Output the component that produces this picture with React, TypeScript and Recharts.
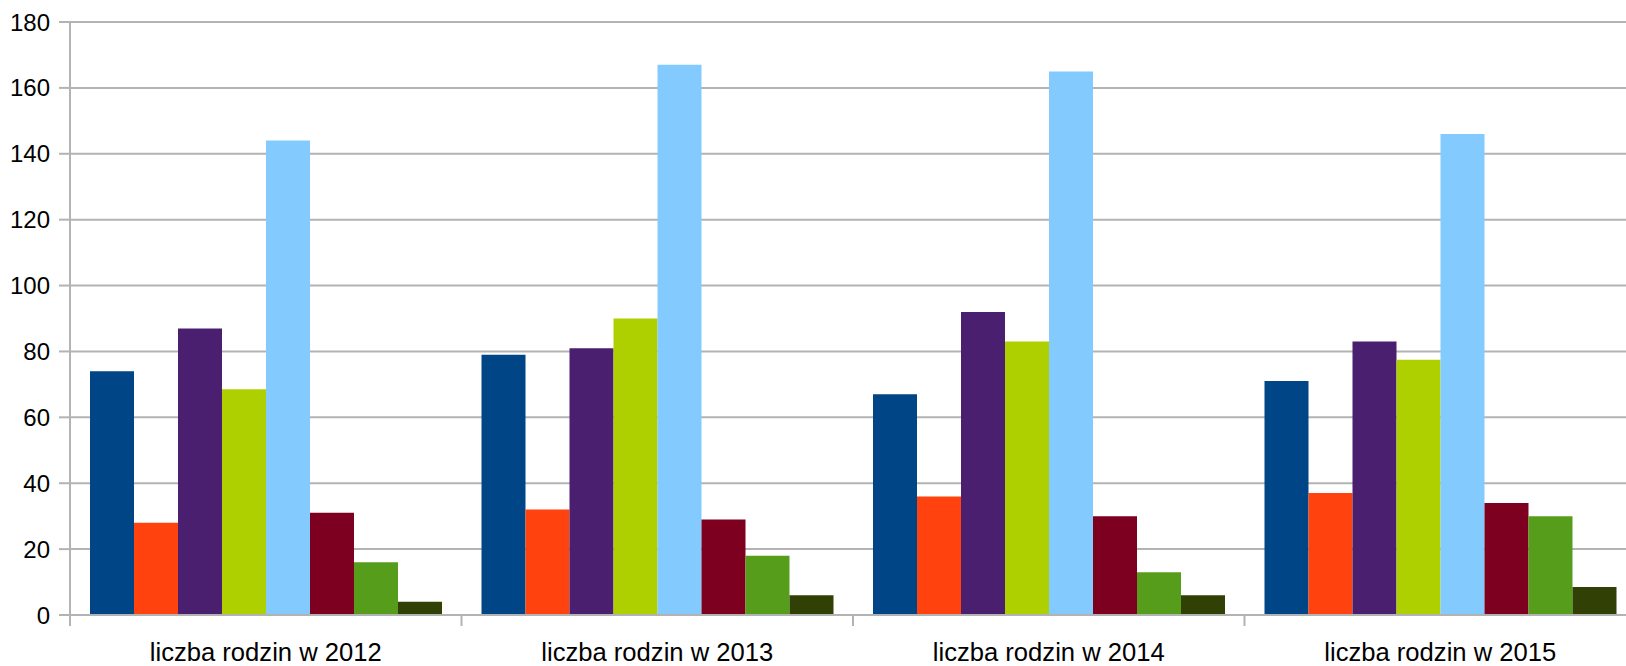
import { BarChart, Bar, XAxis, YAxis, CartesianGrid } from "recharts";

// categories (x axis)
const categories = [
  "liczba rodzin w 2012",
  "liczba rodzin w 2013",
  "liczba rodzin w 2014",
  "liczba rodzin w 2015",
];

// one array per series, in group order left -> right
const seria1 = [74, 79, 67, 71];
const seria2 = [28, 32, 36, 37];
const seria3 = [87, 81, 92, 83];
const seria4 = [68.5, 90, 83, 77.5];
const seria5 = [144, 167, 165, 146];
const seria6 = [31, 29, 30, 34];
const seria7 = [16, 18, 13, 30];
const seria8 = [4, 6, 6, 8.5];

const seriesValues = [seria1, seria2, seria3, seria4, seria5, seria6, seria7, seria8];
const seriesNames = ["Seria 1", "Seria 2", "Seria 3", "Seria 4", "Seria 5", "Seria 6", "Seria 7", "Seria 8"];
const seriesColors = ["#004586", "#ff420e", "#4b1f6f", "#aecf00", "#83caff", "#7e0021", "#579d1c", "#314004"];

const yTicks = [0, 20, 40, 60, 80, 100, 120, 140, 160, 180];

const data = categories.map((name, i) => {
  const row: Record<string, string | number> = { name };
  seriesValues.forEach((vals, s) => {
    row[`s${s}`] = vals[i];
  });
  return row;
});

const GRID = "#b3b3b3";
const FONT = "'Liberation Sans', Arial, sans-serif";
const CHART_W = 1636;
const Y_W = 70;
const BAND = (CHART_W - Y_W) / categories.length;

// category label at the centre, tick marks at the category boundaries
function CatTick(props: any) {
  const { x, y, payload, index } = props;
  const left = x - BAND / 2;
  const right = x + BAND / 2;
  return (
    <g>
      <line x1={left} y1={y} x2={left} y2={y + 11} stroke={GRID} strokeWidth={2} />
      {index === categories.length - 1 && (
        <line x1={right} y1={y} x2={right} y2={y + 11} stroke={GRID} strokeWidth={2} />
      )}
      <text x={x} y={y + 46} textAnchor="middle" fill="#000" fontSize={25.6} fontFamily={FONT}>
        {payload.value}
      </text>
    </g>
  );
}

export default function App() {
  return (
    <div
      style={{
        position: "absolute",
        left: 0,
        top: 0,
        width: 1626,
        height: 666,
        overflow: "hidden",
        background: "#fff",
        fontFamily: FONT,
      }}
    >
      <BarChart
        width={CHART_W}
        height={666}
        data={data}
        margin={{ top: 22, right: 0, bottom: 0, left: 0 }}
        barSize={44}
        barGap={0}
      >
        <CartesianGrid horizontal vertical={false} stroke={GRID} strokeWidth={2} />
        <XAxis
          dataKey="name"
          interval={0}
          height={51}
          axisLine={{ stroke: GRID, strokeWidth: 2 }}
          tickLine={false}
          tickSize={0}
          tickMargin={0}
          tick={<CatTick />}
        />
        <YAxis
          domain={[0, 180]}
          ticks={yTicks}
          interval={0}
          width={Y_W}
          axisLine={{ stroke: GRID, strokeWidth: 2 }}
          tickLine={{ stroke: GRID, strokeWidth: 2 }}
          tickSize={11}
          tickMargin={9}
          tick={{ fill: "#000", fontSize: 24, fontFamily: FONT }}
        />
        {seriesNames.map((n, s) => (
          <Bar key={n} dataKey={`s${s}`} name={n} fill={seriesColors[s]} isAnimationActive={false} />
        ))}
      </BarChart>
    </div>
  );
}
